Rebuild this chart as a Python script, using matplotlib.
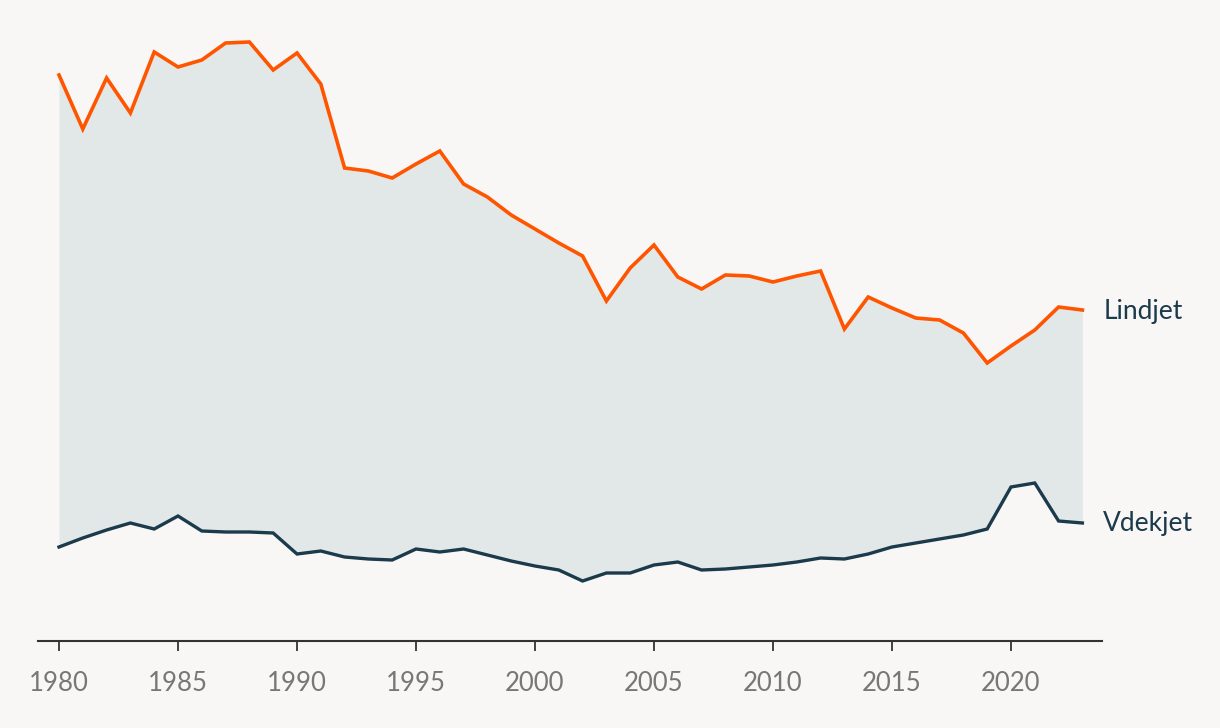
import matplotlib
matplotlib.use('Agg')
import matplotlib.pyplot as plt

years = list(range(1980, 2024))

# values (arbitrary units, no y scale shown)
lindjet = [56.6, 51.2, 56.3, 52.8, 58.9, 57.4, 58.1, 59.8, 59.9, 57.1,
           58.8, 55.7, 47.3, 47.0, 46.3, 47.7, 49.0, 45.7, 44.4, 42.6,
           41.2, 39.8, 38.5, 34.0, 37.3, 39.6, 36.4, 35.2, 36.6, 36.5,
           35.9, 36.5, 37.0, 31.2, 34.4, 33.3, 32.3, 32.1, 30.8, 27.8,
           29.5, 31.1, 33.4, 33.1]
vdekjet = [9.4, 10.3, 11.1, 11.8, 11.2, 12.5, 11.0, 10.9, 10.9, 10.8,
           8.7, 9.0, 8.4, 8.2, 8.1, 9.2, 8.9, 9.2, 8.6, 8.0,
           7.5, 7.1, 6.0, 6.8, 6.8, 7.6, 7.9, 7.1, 7.2, 7.4,
           7.6, 7.9, 8.3, 8.2, 8.7, 9.4, 9.8, 10.2, 10.6, 11.2,
           15.4, 15.8, 12.0, 11.8]

xticks = [1980, 1985, 1990, 1995, 2000, 2005, 2010, 2015, 2020]

bg = '#f8f7f5'
orange = '#ff5500'
dark = '#1b3a4b'
fill = '#e2e8e8'

plt.rcParams['font.family'] = ['Lato', 'DejaVu Sans']

fig = plt.figure(figsize=(12.2, 7.28), dpi=100, facecolor=bg)
ax = fig.add_axes([38/1220, 87/728, 1064/1220, 621/728])
ax.set_facecolor(bg)

ax.fill_between(years, vdekjet, lindjet, color=fill, linewidth=0)
ax.plot(years, lindjet, color=orange, linewidth=2.6, solid_joinstyle='miter')
ax.plot(years, vdekjet, color=dark, linewidth=2.4, solid_joinstyle='miter')

ax.annotate('Lindjet', (years[-1], lindjet[-1]), xytext=(15, -1),
            textcoords='offset points', va='center', ha='left',
            fontsize=19, color=dark)
ax.annotate('Vdekjet', (years[-1], vdekjet[-1]), xytext=(15, 0),
            textcoords='offset points', va='center', ha='left',
            fontsize=19, color=dark)

ax.set_xlim(1979.118, 2023.824)
ax.set_ylim(0, 62.1)
ax.set_xticks(xticks)
ax.set_yticks([])
for s in ['top', 'right', 'left']:
    ax.spines[s].set_visible(False)
ax.spines['bottom'].set_color('#333333')
ax.spines['bottom'].set_linewidth(1.5)
ax.tick_params(axis='x', length=7.5, width=1.3, color='#333333',
               labelsize=18.5, labelcolor='#777777', pad=14)

plt.savefig('out.png', dpi=100, facecolor=bg)
